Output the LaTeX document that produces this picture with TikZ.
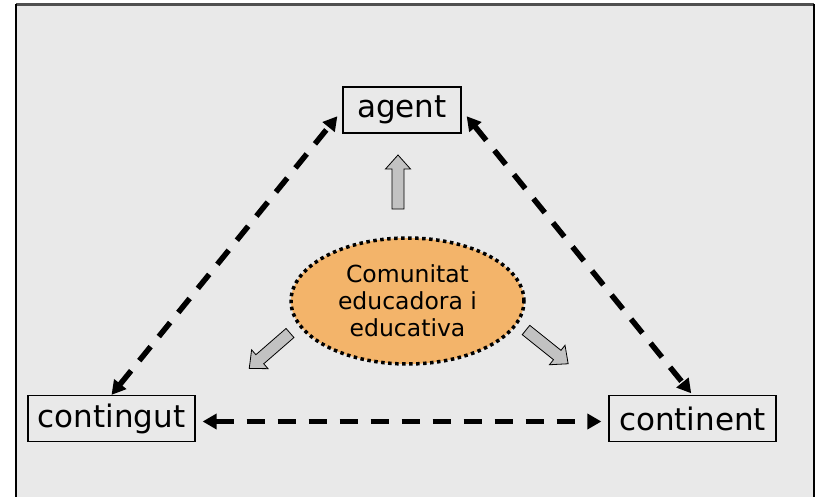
\documentclass[tikz,border=0pt]{standalone}
\usepackage{fontspec}
\setmainfont{DejaVu Sans}
\usetikzlibrary{shapes.geometric,arrows.meta}
\definecolor{bggray}{HTML}{E9E9E9}
\definecolor{framegray}{HTML}{505050}
\definecolor{ellorange}{HTML}{F3B46A}
\definecolor{arrgray}{HTML}{C2C2C2}
\tikzset{
  box/.style={draw=black, line width=1.2pt, fill=bggray, minimum height=46pt, inner sep=0pt,
    font=\fontsize{31}{36}\selectfont},
  dconn/.style={line width=5.5pt, dash pattern=on 18pt off 13pt,
    {Triangle[length=14pt,width=15pt]}-{Triangle[length=14pt,width=15pt]}},
  blockarr/.pic={\draw[fill=arrgray, line width=0.8pt]
     (0,-6) -- (40,-6) -- (40,-12.5) -- (54,0) -- (40,12.5) -- (40,6) -- (0,6) -- cycle;}
}
\begin{document}
\begin{tikzpicture}[x=1pt,y=-1pt]
\useasboundingbox (0,0) rectangle (816,497);
% frame
\fill[white] (0,0) rectangle (816,497);
\fill[bggray] (16,5) rectangle (814,497);
\draw[framegray, line width=3pt] (16,5) -- (814,5);
\draw[black, line width=2pt] (16,4) -- (16,497);
\draw[black, line width=2pt] (813.5,4) -- (813.5,497);
% nodes
\node[box, minimum width=118pt] (agent) at (402,110) {agent};
\node[box, minimum width=167pt] (contingut) at (111.5,418.5) {contingut};
\node[box, minimum width=167pt] (continent) at (692.5,418.5) {continent};
\node[ellipse, draw=black, fill=ellorange, line width=3.5pt, dash pattern=on 3.5pt off 3.5pt,
  minimum width=233pt, minimum height=126pt, inner sep=0pt, align=center,
  font=\fontsize{23.5}{27}\selectfont] (com) at (407.5,301) {Comunitat\\educadora i\\educativa};
% dashed connectors
\draw[dconn, shorten >=8pt] (contingut.north) -- (agent.west);
\draw[dconn, shorten <=8pt, shorten >=2pt] (agent.east) -- (continent.north);
\draw[dconn, shorten <=7pt, shorten >=7pt] ([yshift=-3pt]contingut.east) -- ([yshift=-3pt]continent.west);
% block arrows
\pic[rotate=90] at (398,209) {blockarr};
\pic[rotate=221] at (290,333) {blockarr};
\pic[rotate=-38.7] at (526,330) {blockarr};
\end{tikzpicture}
\end{document}
